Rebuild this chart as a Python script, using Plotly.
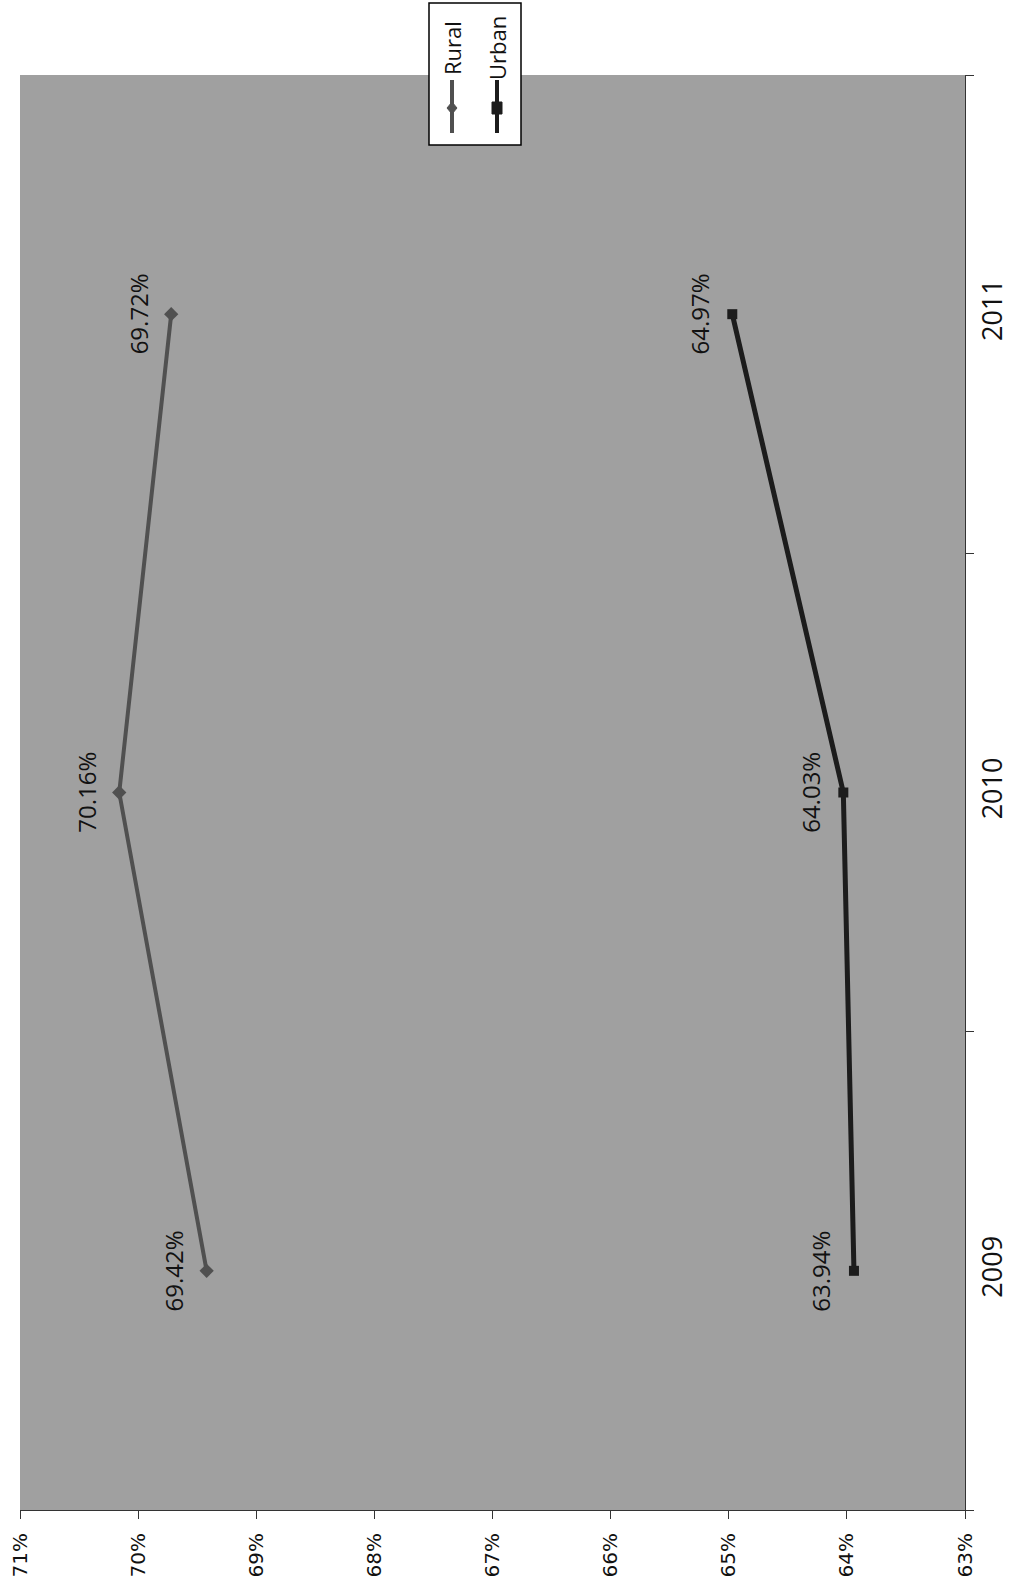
import plotly.graph_objects as go

# ---- data ----
years = ["2009", "2010", "2011"]
rural = [0.6942, 0.7016, 0.6972]
urban = [0.6394, 0.6403, 0.6497]
series_names = ["Rural", "Urban"]
value_ticks = [0.71, 0.70, 0.69, 0.68, 0.67, 0.66, 0.65, 0.64, 0.63]
value_tick_text = [f"{round(v * 100)}%" for v in value_ticks]

RURAL_COL = "#505050"
URBAN_COL = "#1c1c1c"
BG = "#a0a0a0"

fig = go.Figure()
fig.add_trace(go.Scatter(
    x=rural, y=years, mode="lines+markers", name=series_names[0],
    line=dict(color=RURAL_COL, width=4),
    marker=dict(symbol="diamond", size=11, color=RURAL_COL),
))
fig.add_trace(go.Scatter(
    x=urban, y=years, mode="lines+markers", name=series_names[1],
    line=dict(color=URBAN_COL, width=5),
    marker=dict(symbol="square", size=10, color=URBAN_COL),
))

annotations = []
for vals in (rural, urban):
    for i, v in enumerate(vals):
        annotations.append(dict(
            x=v, y=i, xref="x", yref="y", text=f"{v * 100:.2f}%",
            showarrow=False, textangle=-90, xshift=-33,
            xanchor="center", yanchor="middle",
            font=dict(family="Open Sans", size=24, color="#111111"),
        ))

# ---- rotated legend (drawn manually, since the whole chart is rotated) ----
W0, W1 = 20, 965      # plot area px (x)
H0, H1 = 75, 1510     # plot area px (y)
def px(xp):
    return (xp - W0) / (W1 - W0)
def py(yp):
    return 1 - (yp - H0) / (H1 - H0)

shapes = [dict(type="rect", xref="paper", yref="paper",
               x0=px(429), x1=px(521), y0=py(145), y1=py(3),
               line=dict(color="#000000", width=1.5), fillcolor="#ffffff", layer="above")]
legend_items = [(series_names[0], 452, RURAL_COL, "diamond"), (series_names[1], 497, URBAN_COL, "square")]
for name, xc, col, sym in legend_items:
    shapes.append(dict(type="line", xref="paper", yref="paper",
                       x0=px(xc), x1=px(xc), y0=py(80), y1=py(133),
                       line=dict(color=col, width=4), layer="above"))
    ym = 108
    if sym == "diamond":
        path = (f"M {px(xc)},{py(ym - 6)} L {px(xc + 5)},{py(ym)} "
                f"L {px(xc)},{py(ym + 6)} L {px(xc - 5)},{py(ym)} Z")
    else:
        path = (f"M {px(xc - 5)},{py(ym - 6)} L {px(xc + 5)},{py(ym - 6)} "
                f"L {px(xc + 5)},{py(ym + 6)} L {px(xc - 5)},{py(ym + 6)} Z")
    shapes.append(dict(type="path", xref="paper", yref="paper", path=path,
                       fillcolor=col, line=dict(color=col, width=1), layer="above"))
    annotations.append(dict(
        x=px(xc), y=py(48), xref="paper", yref="paper", text=name,
        showarrow=False, textangle=-90, xanchor="center", yanchor="middle",
        font=dict(family="Open Sans", size=22, color="#111111"),
    ))

fig.update_layout(
    width=1013, height=1587,
    margin=dict(l=W0, r=1013 - W1, t=H0, b=1587 - H1, autoexpand=False),
    paper_bgcolor="#ffffff", plot_bgcolor=BG,
    showlegend=False,
    annotations=annotations, shapes=shapes,
    xaxis=dict(
        range=[0.71, 0.63], tickvals=value_ticks, ticktext=value_tick_text,
        tickangle=-90, ticks="outside", ticklen=8, tickcolor="#333333",
        showline=True, linecolor="#333333", linewidth=1,
        showgrid=False, zeroline=False, automargin=False,
        ticklabelstandoff=6,
        tickfont=dict(family="DejaVu Sans", size=20, color="#111111"),
    ),
    yaxis=dict(
        type="category", categoryorder="array", categoryarray=years,
        range=[-0.5, 2.5], side="right",
        ticks="outside", tickson="boundaries", ticklen=8, tickcolor="#333333",
        showline=True, linecolor="#333333", linewidth=1,
        showgrid=False, zeroline=False, automargin=False,
        tickangle=-90, ticklabelstandoff=4,
        tickfont=dict(family="Open Sans", size=27, color="#111111"),
    ),
)

fig.write_html("out.html")
